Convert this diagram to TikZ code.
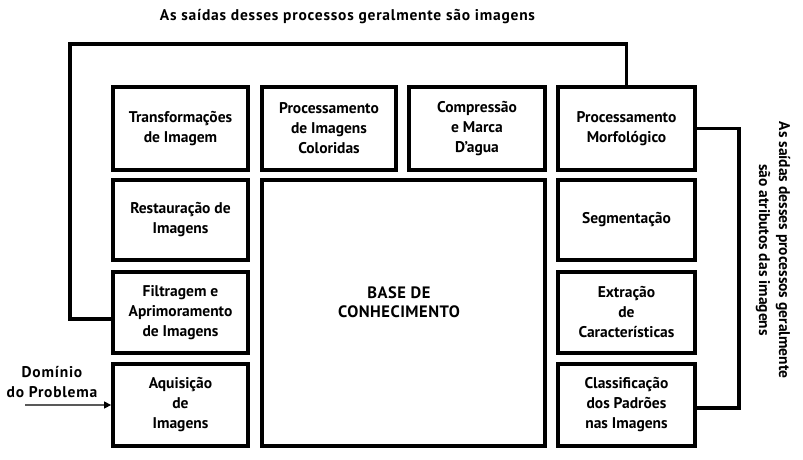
\documentclass[tikz,border=0pt]{standalone}
\usepackage{fontspec}
\setmainfont{PT Sans}
\usetikzlibrary{arrows.meta}
\tikzset{
  box/.style={draw, line width=3.8pt, rectangle, align=center, inner sep=0pt,
    font=\bfseries\fontsize{15.5}{20}\selectfont},
  lbl/.style={align=center, inner sep=0pt, font=\bfseries\fontsize{15.5}{20}\selectfont},
  wide/.style={align=center, inner sep=0pt, font=\bfseries\fontsize{15.5}{20}\selectfont\addfontfeatures{LetterSpace=5}},
  big/.style={align=center, inner sep=0pt, font=\bfseries\fontsize{16.5}{19}\selectfont\addfontfeatures{LetterSpace=3}},
  loop/.style={line width=3.8pt, line join=miter},
}
\begin{document}
\begin{tikzpicture}[x=1pt, y=-1pt]
\useasboundingbox[fill=white] (0,0) rectangle (803,460);
% row 1
\node[box, minimum width=135pt, minimum height=83pt] (trans) at (180.5,128.5) {Transformações\\de Imagem};
\node[box, minimum width=134pt, minimum height=83pt] (color) at (329,128.5) {Processamento\\de Imagens\\Coloridas};
\node[box, minimum width=136pt, minimum height=83pt] (comp) at (477,128.5) {Compressão\\e Marca\\D’agua};
\node[box, minimum width=137pt, minimum height=83pt] (morfo) at (626.5,128.5) {Processamento\\Morfológico};
% column 1
\node[box, minimum width=135pt, minimum height=80pt] (rest) at (180.5,220) {Restauração de\\Imagens};
\node[box, minimum width=135pt, minimum height=81pt] (filt) at (180.5,312.5) {Filtragem e\\Aprimoramento\\de Imagens};
\node[box, minimum width=135pt, minimum height=82pt] (aq) at (180.5,405) {Aquisição\\de\\Imagens};
% column 4
\node[box, minimum width=137pt, minimum height=80pt] (seg) at (626.5,220) {Segmentação};
\node[box, minimum width=137pt, minimum height=81pt] (ext) at (626.5,312.5) {Extração\\de\\Características};
\node[box, minimum width=137pt, minimum height=82pt] (class) at (626.5,405) {Classificação\\dos Padrões\\nas Imagens};
% base
\node[box, minimum width=283pt, minimum height=266pt] (base) at (403.5,313) {};
\node[big] (basetxt) at (399,302) {BASE DE\\CONHECIMENTO};
% texts
\node[wide] (toptxt) at (347.5,17) {As saídas desses processos geralmente são imagens};
\node[lbl, rotate=-90] (righttxt) at (773,250) {As saídas desses processos geralmente\\são atributos das imagens};
\node[wide] (dom) at (52,382) {Domínio\\do Problema};
% loops
\coordinate (tl) at (70,44);
\coordinate (rr) at (739,128.5);
\draw[loop] (morfo.north) |- (tl) |- ([yshift=-6.5pt]filt.west);
\draw[loop] (morfo.east) -- (rr) |- ([yshift=-3pt]class.east);
% input arrow
\coordinate (in) at (25,405);
\draw[gray!70!black, line width=1.4pt, -{Triangle[length=7pt,width=7pt,black]}] (in) -- (aq.west);
\end{tikzpicture}
\end{document}
